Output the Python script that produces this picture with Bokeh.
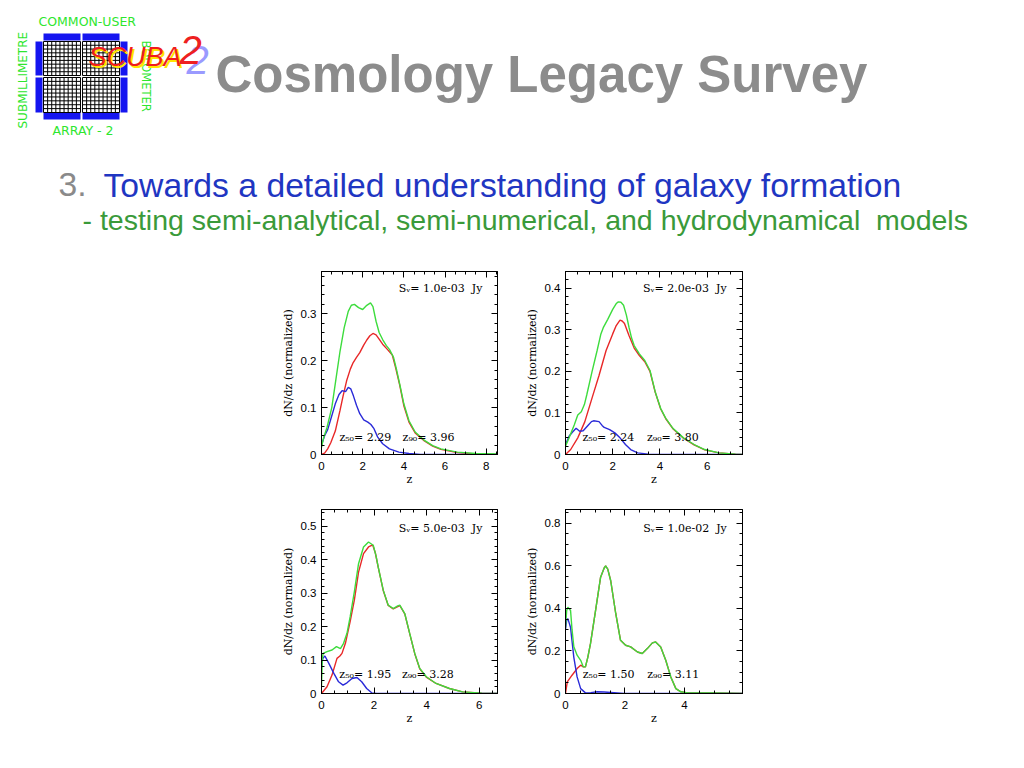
from bokeh.plotting import figure
from bokeh.models import Range1d, LinearAxis, SingleIntervalTicker, Spacer, CustomJSTickFormatter
from bokeh.layouts import column, row
from bokeh.embed import file_html
from bokeh.resources import INLINE
from bokeh.core.properties import value
import math

# ---------------- data ----------------
NB = "\u00a0"
flux_labels = ["Sᵥ= 1.0e-03" + NB + NB + "Jy", "Sᵥ= 2.0e-03" + NB + NB + "Jy",
               "Sᵥ= 5.0e-03" + NB + NB + "Jy", "Sᵥ= 1.0e-02" + NB + NB + "Jy"]
z50_labels = ["z₅₀=" + NB + "2.29", "z₅₀=" + NB + "2.24", "z₅₀=" + NB + "1.95", "z₅₀=" + NB + "1.50"]
z90_labels = ["z₉₀=" + NB + "3.96", "z₉₀=" + NB + "3.80", "z₉₀=" + NB + "3.28", "z₉₀=" + NB + "3.11"]
x_max = [8.55, 7.5, 6.7, 5.95]
y_max = [0.39, 0.44, 0.55, 0.865]
y_tick_step = [0.1, 0.1, 0.1, 0.2]
y_minor = [5, 5, 5, 4]
x_ticks_step = 2

# panel 1 : S = 1.0e-03 Jy
p1_green_z = [0.0, 0.1, 0.27, 0.5, 0.7, 0.9, 1.1, 1.3, 1.45, 1.6, 1.8, 2.0, 2.2, 2.38, 2.5, 2.65, 2.8, 2.97, 3.15, 3.3, 3.5, 3.65, 3.8, 4.0, 4.25, 4.55, 5.0, 5.4, 5.8, 6.6, 7.5, 8.55]
p1_green_y = [0.015, 0.035, 0.058, 0.10, 0.16, 0.22, 0.27, 0.305, 0.318, 0.32, 0.313, 0.309, 0.318, 0.323, 0.315, 0.284, 0.26, 0.245, 0.232, 0.224, 0.207, 0.18, 0.15, 0.108, 0.072, 0.048, 0.03, 0.019, 0.012, 0.005, 0.002, 0.001]
p1_red_z = [0.0, 0.15, 0.3, 0.45, 0.67, 0.9, 1.05, 1.22, 1.4, 1.54, 1.7, 1.86, 2.05, 2.2, 2.35, 2.5, 2.65, 2.8, 2.97, 3.2, 3.44, 3.6, 3.8, 4.0, 4.25, 4.55, 5.0, 5.4, 5.8, 6.6, 7.5, 8.55]
p1_red_y = [0.0, 0.003, 0.012, 0.025, 0.05, 0.094, 0.125, 0.157, 0.182, 0.196, 0.207, 0.217, 0.233, 0.244, 0.253, 0.258, 0.255, 0.246, 0.235, 0.224, 0.212, 0.185, 0.148, 0.104, 0.069, 0.046, 0.029, 0.018, 0.011, 0.004, 0.001, 0.0]
p1_blue_z = [0.0, 0.15, 0.3, 0.45, 0.67, 0.85, 1.0, 1.17, 1.3, 1.42, 1.55, 1.7, 1.86, 2.05, 2.25, 2.4, 2.55, 2.73, 2.97, 3.3, 3.76, 4.25, 4.8, 8.55]
p1_blue_y = [0.02, 0.04, 0.053, 0.075, 0.108, 0.128, 0.136, 0.134, 0.143, 0.14, 0.125, 0.105, 0.087, 0.074, 0.069, 0.064, 0.055, 0.037, 0.023, 0.012, 0.005, 0.002, 0.0, 0.0]

# panel 2 : S = 2.0e-03 Jy
p2_green_z = [0.0, 0.15, 0.37, 0.52, 0.67, 0.8, 0.9, 1.12, 1.34, 1.5, 1.6, 1.79, 2.0, 2.15, 2.24, 2.35, 2.46, 2.58, 2.69, 2.8, 2.91, 3.13, 3.36, 3.58, 3.8, 4.03, 4.25, 4.55, 5.0, 5.45, 5.9, 6.5, 7.2, 7.5]
p2_green_y = [0.02, 0.04, 0.071, 0.095, 0.103, 0.12, 0.143, 0.198, 0.25, 0.29, 0.305, 0.325, 0.349, 0.363, 0.367, 0.366, 0.359, 0.335, 0.306, 0.28, 0.262, 0.242, 0.226, 0.202, 0.151, 0.111, 0.087, 0.063, 0.04, 0.024, 0.012, 0.004, 0.001, 0.0]
p2_red_z = [0.0, 0.22, 0.52, 0.82, 1.12, 1.42, 1.72, 2.0, 2.15, 2.31, 2.4, 2.5, 2.69, 2.91, 3.13, 3.36, 3.58, 3.8, 4.03, 4.25, 4.55, 5.0, 5.45, 5.9, 6.5, 7.2, 7.5]
p2_red_y = [0.0, 0.012, 0.04, 0.079, 0.135, 0.19, 0.25, 0.29, 0.31, 0.323, 0.321, 0.315, 0.286, 0.256, 0.238, 0.223, 0.2, 0.15, 0.11, 0.086, 0.062, 0.039, 0.023, 0.011, 0.004, 0.001, 0.0]
p2_blue_z = [0.0, 0.15, 0.3, 0.45, 0.6, 0.75, 0.97, 1.1, 1.19, 1.42, 1.55, 1.64, 1.87, 2.09, 2.31, 2.54, 2.76, 3.06, 3.5, 4.0, 7.5]
p2_blue_y = [0.024, 0.044, 0.054, 0.063, 0.056, 0.057, 0.071, 0.079, 0.081, 0.079, 0.07, 0.065, 0.06, 0.052, 0.04, 0.024, 0.012, 0.004, 0.001, 0.0, 0.0]

# panel 3 : S = 5.0e-03 Jy
p3_green_z = [0.0, 0.03, 0.06, 0.21, 0.4, 0.57, 0.72, 0.84, 0.97, 1.09, 1.25, 1.41, 1.6, 1.79, 1.97, 2.08, 2.16, 2.35, 2.54, 2.73, 2.9, 2.98, 3.17, 3.36, 3.55, 3.74, 3.99, 4.36, 4.87, 5.37, 6.1, 6.7]
p3_green_y = [0.02, 0.1, 0.12, 0.125, 0.13, 0.14, 0.134, 0.15, 0.18, 0.229, 0.304, 0.388, 0.438, 0.453, 0.443, 0.41, 0.378, 0.309, 0.264, 0.254, 0.262, 0.264, 0.239, 0.179, 0.12, 0.075, 0.05, 0.03, 0.015, 0.005, 0.001, 0.0]
p3_red_z = [0.0, 0.21, 0.4, 0.59, 0.7, 0.78, 0.91, 1.09, 1.25, 1.41, 1.6, 1.79, 1.95, 2.05, 2.16, 2.35, 2.54, 2.73, 2.98, 3.17, 3.36, 3.55, 3.74, 3.99, 4.36, 4.87, 5.37, 6.1, 6.7]
p3_red_y = [0.0, 0.02, 0.055, 0.105, 0.112, 0.12, 0.15, 0.215, 0.279, 0.363, 0.418, 0.438, 0.444, 0.42, 0.377, 0.308, 0.263, 0.253, 0.263, 0.238, 0.178, 0.119, 0.074, 0.049, 0.03, 0.015, 0.005, 0.001, 0.0]
p3_blue_z = [0.0, 0.05, 0.13, 0.28, 0.47, 0.65, 0.82, 0.97, 1.16, 1.35, 1.53, 1.72, 1.91, 2.1, 6.7]
p3_blue_y = [0.08, 0.105, 0.112, 0.09, 0.06, 0.035, 0.025, 0.032, 0.045, 0.048, 0.035, 0.015, 0.002, 0.0, 0.0]

# panel 4 : S = 1.0e-02 Jy
p4_green_z = [0.0, 0.04, 0.08, 0.17, 0.22, 0.28, 0.39, 0.51, 0.6, 0.67, 0.75, 0.84, 1.01, 1.18, 1.3, 1.35, 1.42, 1.52, 1.69, 1.85, 2.02, 2.19, 2.42, 2.58, 2.75, 2.92, 3.03, 3.2, 3.37, 3.54, 3.71, 3.88, 4.1, 4.9, 5.95]
p4_green_y = [0.31, 0.39, 0.406, 0.39, 0.3, 0.22, 0.18, 0.156, 0.125, 0.125, 0.17, 0.234, 0.39, 0.547, 0.59, 0.6, 0.585, 0.53, 0.375, 0.25, 0.227, 0.219, 0.195, 0.188, 0.211, 0.238, 0.242, 0.219, 0.156, 0.078, 0.023, 0.008, 0.003, 0.003, 0.0]
p4_red_z = [0.0, 0.06, 0.22, 0.39, 0.51, 0.6, 0.67, 0.75, 0.84, 1.01, 1.18, 1.3, 1.35, 1.42, 1.52, 1.69, 1.85, 2.02, 2.19, 2.42, 2.58, 2.75, 2.92, 3.03, 3.2, 3.37, 3.54, 3.71, 3.88, 4.1, 4.9, 5.95]
p4_red_y = [0.0, 0.055, 0.086, 0.117, 0.133, 0.125, 0.125, 0.17, 0.234, 0.39, 0.547, 0.59, 0.6, 0.585, 0.53, 0.375, 0.25, 0.227, 0.219, 0.195, 0.188, 0.211, 0.238, 0.242, 0.219, 0.156, 0.078, 0.023, 0.008, 0.003, 0.003, 0.0]
p4_blue_z = [0.0, 0.04, 0.08, 0.17, 0.28, 0.39, 0.51, 0.67, 0.85, 1.07, 1.3, 1.52, 1.97, 5.95]
p4_blue_y = [0.3, 0.345, 0.352, 0.31, 0.17, 0.078, 0.023, 0.003, 0.004, 0.008, 0.007, 0.005, 0.0, 0.0]

curves = [
    (p1_green_z, p1_green_y, p1_red_z, p1_red_y, p1_blue_z, p1_blue_y),
    (p2_green_z, p2_green_y, p2_red_z, p2_red_y, p2_blue_z, p2_blue_y),
    (p3_green_z, p3_green_y, p3_red_z, p3_red_y, p3_blue_z, p3_blue_y),
    (p4_green_z, p4_green_y, p4_red_z, p4_red_y, p4_blue_z, p4_blue_y),
]

# annotation anchor positions (data units) per panel
flux_pos = [(3.75, 0.353), (3.28, 0.40), (2.94, 0.494), (2.61, 0.775)]
z50_pos = [(0.87, 0.036), (0.72, 0.041), (0.68, 0.057), (0.58, 0.089)]
z90_pos = [(3.94, 0.036), (3.45, 0.041), (3.06, 0.057), (2.75, 0.089)]

GREEN = "#3ddc3d"
RED = "#e82828"
BLUE = "#2a2ad8"
SERIF = "DejaVu Serif"

fmt = CustomJSTickFormatter(code="return tick == 0 ? '0' : tick.toFixed(1);")


def style_axis(ax, labels=True):
    ax.axis_line_color = "black"
    ax.major_tick_line_color = "black"
    ax.minor_tick_line_color = "black"
    ax.major_tick_in = 6
    ax.major_tick_out = 0
    ax.minor_tick_in = 3
    ax.minor_tick_out = 0
    if labels:
        ax.major_label_text_font = "Liberation Sans"
        ax.major_label_text_font_size = "11.5px"
        ax.major_label_text_color = "black"
        ax.major_label_standoff = 5
        ax.axis_label_text_font = SERIF
        ax.axis_label_text_font_size = "11px"
        ax.axis_label_text_font_style = "normal"
        ax.axis_label_text_color = "black"
        ax.axis_label_standoff = 3
    else:
        ax.major_label_text_font_size = "1px"
        ax.major_label_text_color = None
        ax.major_label_standoff = 0


def make_panel(i, width, height, bl, br, bt, bb):
    p = figure(width=width, height=height,
               x_range=Range1d(0, x_max[i]), y_range=Range1d(0, y_max[i]),
               output_backend="svg", toolbar_location=None,
               min_border_left=bl, min_border_right=br,
               min_border_top=bt, min_border_bottom=bb,
               x_axis_label="z", y_axis_label="dN/dz (normalized)")
    p.background_fill_color = "white"
    p.border_fill_color = "white"
    p.outline_line_color = "black"
    p.grid.visible = False
    xt = SingleIntervalTicker(interval=x_ticks_step, num_minor_ticks=4)
    yt = SingleIntervalTicker(interval=y_tick_step[i], num_minor_ticks=y_minor[i])
    p.xaxis[0].ticker = xt
    p.yaxis[0].ticker = yt
    p.yaxis[0].formatter = fmt
    style_axis(p.xaxis[0])
    style_axis(p.yaxis[0])
    p.xaxis[0].axis_label_standoff = 0
    p.xaxis[0].major_label_standoff = 7
    top = LinearAxis(ticker=xt)
    style_axis(top, labels=False)
    p.add_layout(top, "above")
    right = LinearAxis(ticker=yt)
    style_axis(right, labels=False)
    p.add_layout(right, "right")

    gz, gy, rz, ry, bz, by = curves[i]
    p.line(rz, ry, line_color=RED, line_width=1.4)
    p.line(bz, by, line_color=BLUE, line_width=1.4)
    p.line(gz, gy, line_color=GREEN, line_width=1.4)

    p.text(x=[flux_pos[i][0]], y=[flux_pos[i][1]], text=[flux_labels[i]],
           text_font=value(SERIF), text_font_size=value("11px"),
           text_baseline="middle", text_align="left", text_color="black")
    p.text(x=[z50_pos[i][0], z90_pos[i][0]], y=[z50_pos[i][1], z90_pos[i][1]],
           text=[z50_labels[i], z90_labels[i]],
           text_font=value(SERIF), text_font_size=value("11px"),
           text_baseline="middle", text_align="left", text_color="black")
    return p


p1 = make_panel(0, 237, 227, 41, 18, 8, 36)
p2 = make_panel(1, 245, 227, 50, 18, 8, 36)
p3 = make_panel(2, 237, 238, 41, 18, 19, 35)
p4 = make_panel(3, 245, 238, 50, 18, 19, 35)

# ---------------- header (slide title + logo), page-pixel coordinates ----------------
h = figure(width=1008, height=263, x_range=Range1d(0, 1008), y_range=Range1d(263, 0),
           output_backend="svg", toolbar_location=None,
           x_axis_type=None, y_axis_type=None, min_border=0)
h.outline_line_color = None
h.background_fill_color = "white"
h.border_fill_color = "white"

# logo: blue frame bars
LOGO_BLUE = "#1515f0"
h.quad(left=[43, 82, 43, 82, 35, 35, 120, 120], right=[80, 119, 80, 119, 42, 42, 127, 127],
       top=[33, 33, 112, 112, 41, 77, 41, 77], bottom=[40, 40, 119, 119, 75, 112, 75, 112],
       fill_color=LOGO_BLUE, line_color=None)
# logo: grid quadrants
quads = [(43, 80, 41, 75), (82, 119, 41, 75), (43, 80, 77, 112), (82, 119, 77, 112)]
xs, ys = [], []
for (l, r, t, b) in quads:
    n = 9
    for k in range(n + 1):
        xx = l + (r - l) * k / n
        xs.append([xx, xx]); ys.append([t, b])
        yy = t + (b - t) * k / n
        xs.append([l, r]); ys.append([yy, yy])
h.multi_line(xs, ys, line_color="black", line_width=1)

LOGO_GREEN = "#2ee62e"
h.text(x=[38], y=[21], text=["COMMON-USER"], text_font=value("DejaVu Sans"),
       text_font_size=value("12.5px"), text_color=LOGO_GREEN, text_baseline="middle")
h.text(x=[52], y=[130], text=["ARRAY - 2"], text_font=value("DejaVu Sans"),
       text_font_size=value("12.5px"), text_color=LOGO_GREEN, text_baseline="middle")
h.text(x=[22], y=[128], text=["SUBMILLIMETRE"], text_font=value("DejaVu Sans"),
       text_font_size=value("12px"), text_color=LOGO_GREEN, text_baseline="middle",
       angle=math.pi / 2)
h.text(x=[145], y=[40], text=["BOLOMETER"], text_font=value("DejaVu Sans"),
       text_font_size=value("11.5px"), text_color=LOGO_GREEN, text_baseline="middle",
       angle=-math.pi / 2)
h.text(x=[90], y=[58], text=["SCUBA"], text_font=value("Liberation Sans"),
       text_font_size=value("27px"), text_font_style="italic", text_color="#ffe600",
       text_baseline="alphabetic")
h.text(x=[88], y=[56], text=["SCUBA"], text_font=value("Liberation Sans"),
       text_font_size=value("27px"), text_font_style="italic", text_color="#f01c1c",
       text_baseline="alphabetic")
h.text(x=[186], y=[59], text=["2"], text_font=value("Liberation Sans"),
       text_font_size=value("40px"), text_font_style="italic", text_color="#9a9aff",
       text_baseline="alphabetic")
h.text(x=[179], y=[49], text=["2"], text_font=value("Liberation Sans"),
       text_font_size=value("40px"), text_font_style="italic", text_color="#ee2020",
       text_baseline="alphabetic")

# slide texts
h.text(x=[215], y=[74], text=["Cosmology Legacy Survey"], text_font=value("Liberation Sans"),
       text_font_size=value("51px"), text_font_style="bold", text_color="#8c8c8c",
       text_baseline="alphabetic")
h.text(x=[58], y=[184], text=["3."], text_font=value("Liberation Sans"),
       text_font_size=value("33.7px"), text_color="#8a8a8a", text_baseline="alphabetic")
h.text(x=[103], y=[184], text=["Towards a detailed understanding of galaxy formation"],
       text_font=value("Liberation Sans"), text_font_size=value("33.7px"), text_color="#1f36c2",
       text_baseline="alphabetic")
h.text(x=[82], y=[219], text=["- testing semi-analytical, semi-numerical, and hydrodynamical" + NB + " models"],
       text_font=value("Liberation Sans"), text_font_size=value("28.5px"), text_color="#3a9a3a",
       text_baseline="alphabetic")

layout = column(h,
                row(Spacer(width=278, height=227), p1, p2),
                row(Spacer(width=278, height=238), p3, p4))

open("out.html", "w").write(file_html(layout, INLINE))
